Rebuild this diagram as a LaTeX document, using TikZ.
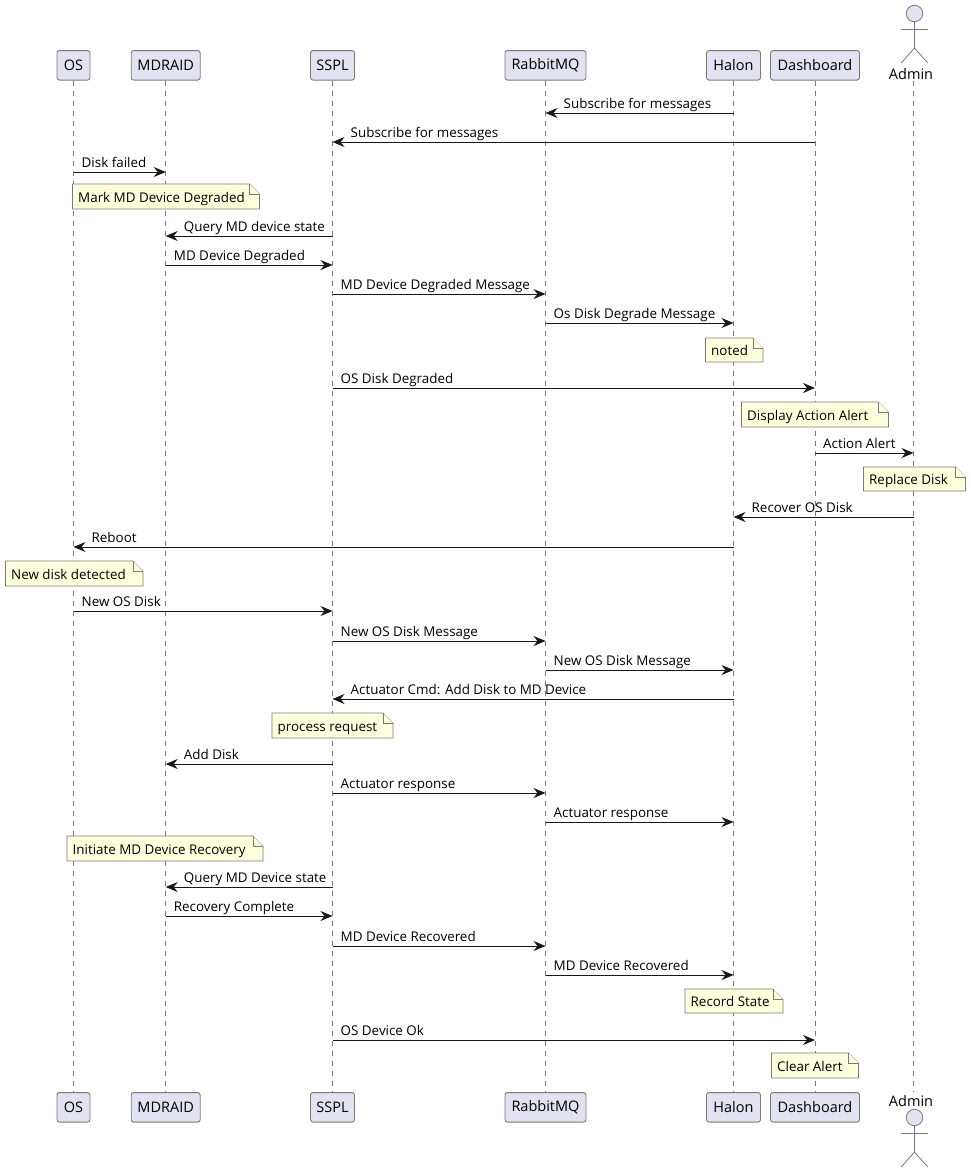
\documentclass[tikz,border=0pt]{standalone}
\usepackage{fontspec}
\setmainfont{Open Sans}
\usetikzlibrary{arrows.meta,calc}
\definecolor{partfill}{HTML}{E2E2F0}
\definecolor{partline}{HTML}{7A7A7A}
\definecolor{notefill}{HTML}{FEFFDD}
\definecolor{msgcol}{HTML}{181818}
\tikzset{
  x=1pt,y=-1pt,
  part/.style={draw=partline,fill=partfill,line width=.9pt,rounded corners=2.5pt,inner sep=0pt,minimum height=29.5pt,font=\fontsize{14.5}{16}\selectfont,text=black},
  lifeline/.style={draw=partline,line width=.7pt,dash pattern=on 5pt off 5pt},
  actorline/.style={draw=partline,line width=.8pt},
  actorhead/.style={draw=partline,fill=partfill,line width=.8pt,circle,minimum size=16.5pt,inner sep=0pt},
  msgline/.style={draw=msgcol,line width=1pt,-{Stealth[inset=4pt,length=12pt,width=10pt]}},
  msgtext/.style={anchor=base west,inner sep=0pt,font=\fontsize{13.4}{15}\selectfont,text=black},
  notebody/.style={draw=partline,fill=notefill,line width=.7pt},
  notetext/.style={anchor=base west,inner sep=0pt,font=\fontsize{13.4}{15}\selectfont,text=black},
  actortext/.style={inner sep=0pt,anchor=base,font=\fontsize{14.5}{16}\selectfont,text=black},
}
% \pp name label centre width
\newcommand\pp[4]{%
  \node[part,minimum width=#4] (#1T) at (#3,65.3) {\raisebox{-1pt}{#2}};
  \node[part,minimum width=#4] (#1B) at (#3,1107.3) {\raisebox{-1pt}{#2}};
  \draw[lifeline] (#1T.south) -- (#1B.north);
}
\newcommand\mr[4]{%
  \coordinate (a#3) at (#1T |- 0,#3);
  \coordinate (b#3) at (#2T |- 0,#3);
  \draw[msgline] (a#3) -- (b#3);
  \node[msgtext] (l#3) at ($(a#3)+(8,-5)$) {#4};
}
\newcommand\ml[4]{%
  \coordinate (a#3) at (#1T |- 0,#3);
  \coordinate (b#3) at (#2T |- 0,#3);
  \draw[msgline] (a#3) -- (b#3);
  \node[msgtext] (l#3) at ($(b#3)+(18,-5)$) {#4};
}
% \nt name x1 y1 x2 y2 text
\newcommand\nt[6]{%
  \draw[notebody] (#2,#3) -- ($(#4,#3)+(-10,0)$) -- ($(#4,#3)+(0,10)$) -- (#4,#5) -- (#2,#5) -- cycle;
  \draw[notebody] ($(#4,#3)+(-10,0)$) -- ($(#4,#3)+(-10,10)$) -- ($(#4,#3)+(0,10)$);
  \node[notetext] (#1) at ($(#2,#5)+(5.5,-7)$) {#6};
}
\newcommand\actor[2]{%
  \node[actorhead] (#1) at (914.5,#2) {};
  \draw[actorline] (#1.south) -- ($(#1)+(0,34.5)$) coordinate (#1h);
  \draw[actorline] ($(#1)+(-13.3,16)$) -- ($(#1)+(13.3,16)$);
  \draw[actorline] ($(#1h)+(-13.3,15)$) -- (#1h) -- ($(#1h)+(13.3,15)$);
}
\begin{document}
\begin{tikzpicture}
\useasboundingbox (0,0) rectangle (971,1173);
\fill[white] (0,0) rectangle (971,1173);
\pp{OS}{OS}{73.5}{33}
\pp{MD}{MDRAID}{165.7}{69}
\pp{SS}{SSPL}{332.5}{44}
\pp{RB}{RabbitMQ}{545.5}{81}
\pp{HA}{Halon}{733.5}{54}
\pp{DA}{Dashboard}{815}{89}
\coordinate (ADT) at (913.5,81);
\coordinate (ADB) at (913.5,1092);
\draw[lifeline] (ADT) -- (ADB);
\node[actortext] (adminT) at (911,79.2) {Admin};
\node[actortext] (adminB) at (911,1106) {Admin};
\actor{actT}{13.5}
\actor{actB}{1117.5}
\ml{HA}{RB}{113}{Subscribe for messages}
\ml{DA}{SS}{142}{Subscribe for messages}
\mr{OS}{MD}{172}{Disk failed}
\nt{n1}{72.5}{184}{259.5}{209}{Mark MD Device Degraded}
\ml{SS}{MD}{236}{Query MD device state}
\mr{MD}{SS}{265}{MD Device Degraded}
\mr{SS}{RB}{294}{MD Device Degraded Message}
\mr{RB}{HA}{323}{Os Disk Degrade Message}
\nt{n2}{705.5}{338}{763}{362}{noted}
\mr{SS}{DA}{388}{OS Disk Degraded}
\nt{n3}{741.5}{402}{888.5}{427}{Display Action Alert}
\mr{DA}{AD}{453}{Action Alert}
\nt{n4}{863.5}{467}{965.5}{491}{Replace Disk}
\ml{AD}{HA}{517}{Recover OS Disk}
\ml{HA}{OS}{547}{Reboot}
\nt{n5}{5.5}{561}{143}{586}{New disk detected}
\mr{OS}{SS}{611}{New OS Disk}
\mr{SS}{RB}{641}{New OS Disk Message}
\mr{RB}{HA}{670}{New OS Disk Message}
\ml{HA}{SS}{699}{Actuator Cmd: Add Disk to MD Device}
\nt{n6}{272}{713}{393}{738}{process request}
\ml{SS}{MD}{764}{Add Disk}
\mr{SS}{RB}{793}{Actuator response}
\mr{RB}{HA}{822}{Actuator response}
\nt{n7}{67}{836}{263}{861}{Initiate MD Device Recovery}
\ml{SS}{MD}{887}{Query MD Device state}
\mr{MD}{SS}{916}{Recovery Complete}
\mr{SS}{RB}{946}{MD Device Recovered}
\mr{RB}{HA}{975}{MD Device Recovered}
\nt{n8}{685}{989}{783}{1013}{Record State}
\mr{SS}{DA}{1040}{OS Device Ok}
\nt{n9}{771.5}{1053}{858.5}{1078}{Clear Alert}
\end{tikzpicture}
\end{document}
